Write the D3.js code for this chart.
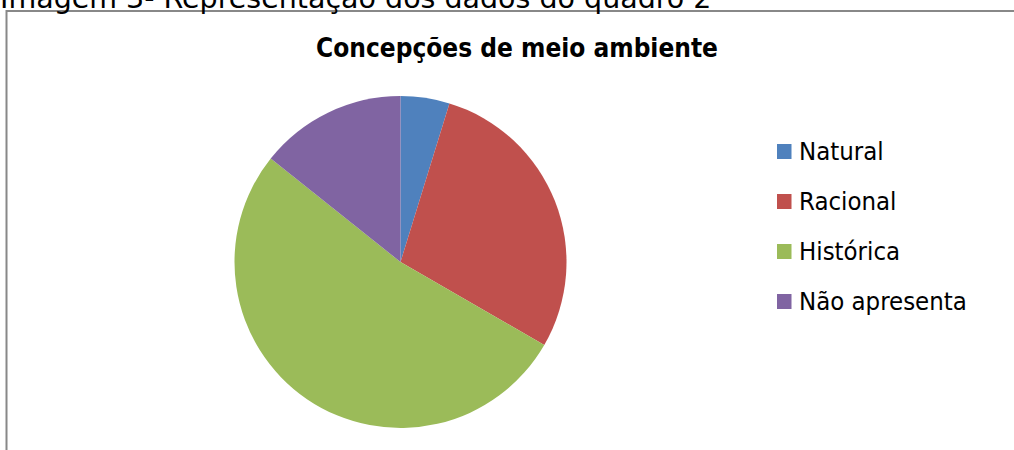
<!DOCTYPE html>
<html>
<head>
<meta charset="utf-8">
<script src="https://cdn.jsdelivr.net/npm/d3@7"></script>
<style>
  body { margin: 0; background: #fff; }
  svg { display: block; }
</style>
</head>
<body>
<div id="chart"></div>
<script>
// data (counts, total 21)
const categories = ["Natural", "Racional", "Histórica", "Não apresenta"];
const values = [1, 6, 11, 3];
const colors = ["#4F81BD", "#C0504D", "#9BBB59", "#8064A2"];
const chartTitle = "Concepções de meio ambiente";
const caption = "Imagem 3- Representação dos dados do quadro 2";

const width = 1014, height = 450;
const cx = 400.5, cy = 262, radius = 166;

const svg = d3.select("#chart").append("svg")
    .attr("width", width)
    .attr("height", height)
    .attr("viewBox", [0, 0, width, height]);

// chart frame (right and bottom edges run off the picture)
svg.append("rect")
    .attr("x", 6.5)
    .attr("y", 11)
    .attr("width", width + 20)
    .attr("height", height + 20)
    .attr("fill", "#fff")
    .attr("stroke", "#888")
    .attr("stroke-width", 2);

// caption above the chart box, cut off at the top like the source
svg.append("text")
    .attr("x", 0)
    .attr("y", 7.5)
    .style("font-family", "'DejaVu Sans', Verdana, sans-serif")
    .style("font-size", "28.5px")
    .attr("fill", "#000")
    .text(caption);

svg.append("text")
    .attr("x", 517)
    .attr("y", 57)
    .attr("text-anchor", "middle")
    .style("font-family", "'DejaVu Sans Condensed', 'DejaVu Sans', sans-serif")
    .style("font-weight", "bold")
    .style("font-size", "26px")
    .attr("fill", "#000")
    .text(chartTitle);

const pie = d3.pie().sort(null).value(d => d);
const arc = d3.arc().innerRadius(0).outerRadius(radius);

svg.append("g")
    .attr("transform", `translate(${cx},${cy})`)
    .selectAll("path")
    .data(pie(values))
    .join("path")
    .attr("d", arc)
    .attr("fill", (d, i) => colors[i]);

const legendY = d3.scalePoint().domain(categories).range([151.5, 301.5]);

const legend = svg.append("g")
    .selectAll("g")
    .data(categories)
    .join("g")
    .attr("transform", d => `translate(777,${legendY(d)})`);

legend.append("rect")
    .attr("x", 0)
    .attr("y", -7.5)
    .attr("width", 14.5)
    .attr("height", 15)
    .attr("fill", (d, i) => colors[i]);

legend.append("text")
    .attr("x", 22)
    .attr("y", 8.5)
    .style("font-family", "'DejaVu Sans Condensed', 'Liberation Sans', sans-serif")
    .style("font-size", "25.5px")
    .attr("fill", "#000")
    .text(d => d);
</script>
</body>
</html>
